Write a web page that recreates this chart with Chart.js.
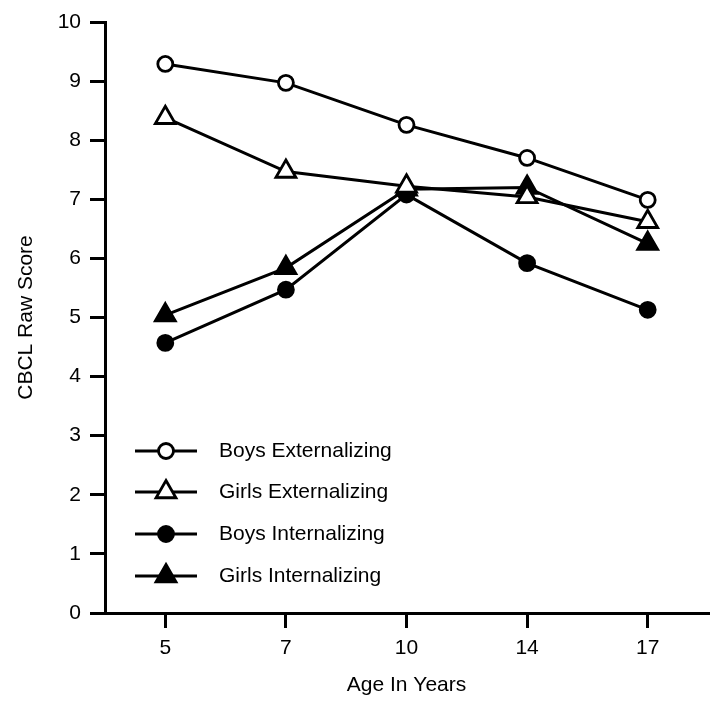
<!DOCTYPE html>
<html>
<head>
<meta charset="utf-8">
<script src="https://cdn.jsdelivr.net/npm/chart.js@4/dist/chart.umd.min.js"></script>
<style>
  html, body { margin: 0; padding: 0; background: #fff; }
  #wrap { width: 715px; height: 709px; }
</style>
</head>
<body>
<div id="wrap"><canvas id="cbclChart" width="715" height="709"></canvas></div>
<script>
// CBCL raw scores by age
const ages = ['5', '7', '10', '14', '17'];
const boysExternalizing = [9.29, 8.97, 8.26, 7.70, 6.99];
const girlsExternalizing = [8.38, 7.47, 7.22, 7.04, 6.62];
const boysInternalizing = [4.57, 5.47, 7.08, 5.92, 5.13];
const girlsInternalizing = [5.04, 5.84, 7.17, 7.20, 6.25];
const yTicks = [0, 1, 2, 3, 4, 5, 6, 7, 8, 9, 10];

const FONT = "'Liberation Sans', Arial, sans-serif";
const FONT_SIZE = 21;

function series(label, data, style, filled) {
    const isCircle = style === 'circle';
    return {
        label: label,
        data: data,
        borderColor: '#000',
        borderWidth: 3,
        pointStyle: style,
        pointRadius: isCircle ? 7.5 : 11.5,
        pointBorderWidth: 2.8,
        pointBorderColor: '#000',
        pointBackgroundColor: filled ? '#000' : '#fff',
        fill: false,
        tension: 0
    };
}

// legend drawn inside the plot area, bottom left
const innerLegend = {
    id: 'innerLegend',
    afterDraw(chart) {
        const ctx = chart.ctx;
        const area = chart.chartArea;
        const x0 = area.left + 30;
        const x1 = area.left + 92;
        const xm = (x0 + x1) / 2;
        const rows = [451, 492, 534, 576];
        ctx.save();
        chart.data.datasets.forEach((ds, i) => {
            const y = rows[i];
            ctx.strokeStyle = '#000';
            ctx.lineWidth = 3;
            ctx.beginPath();
            ctx.moveTo(x0, y);
            ctx.lineTo(x1, y);
            ctx.stroke();
            ctx.fillStyle = ds.pointBackgroundColor;
            ctx.lineWidth = ds.pointBorderWidth;
            Chart.helpers.drawPoint(ctx, {
                pointStyle: ds.pointStyle,
                radius: ds.pointRadius,
                borderWidth: ds.pointBorderWidth,
                rotation: 0
            }, xm, y);
            ctx.fillStyle = '#000';
            ctx.font = FONT_SIZE + 'px ' + FONT;
            ctx.textBaseline = 'middle';
            ctx.textAlign = 'left';
            ctx.fillText(ds.label, area.left + 114, y);
        });
        ctx.restore();
    }
};

function initializeChart() {
    const ctx = document.getElementById('cbclChart');
    new Chart(ctx, {
        type: 'line',
        data: {
            labels: ages,
            datasets: [
                series('Boys Externalizing', boysExternalizing, 'circle', false),
                series('Girls Externalizing', girlsExternalizing, 'triangle', false),
                series('Boys Internalizing', boysInternalizing, 'circle', true),
                series('Girls Internalizing', girlsInternalizing, 'triangle', true)
            ]
        },
        options: {
            responsive: false,
            animation: false,
            layout: { autoPadding: false, padding: { left: 0, right: 7, top: 22, bottom: 0 } },
            plugins: {
                legend: { display: false },
                tooltip: { enabled: false }
            },
            scales: {
                x: {
                    type: 'category',
                    offset: true,
                    border: { display: true, color: '#000', width: 3 },
                    grid: { offset: false, drawOnChartArea: false, drawTicks: true, tickLength: 15, color: '#000', lineWidth: 3 },
                    ticks: { color: '#000', padding: 8, font: { size: FONT_SIZE, family: FONT } },
                    title: { display: true, text: 'Age In Years', color: '#000', padding: { top: 0, bottom: 11 }, font: { size: FONT_SIZE, family: FONT } },
                    afterFit(scale) { scale.height = 96; }
                },
                y: {
                    min: 0,
                    max: 10,
                    afterBuildTicks(scale) { scale.ticks = yTicks.map(v => ({ value: v })); },
                    border: { display: true, color: '#000', width: 3 },
                    grid: { drawOnChartArea: false, drawTicks: true, tickLength: 15, color: '#000', lineWidth: 3 },
                    ticks: { color: '#000', padding: 9, font: { size: FONT_SIZE, family: FONT } },
                    title: { display: true, text: 'CBCL Raw Score', color: '#000', padding: { top: 14, bottom: 0 }, font: { size: FONT_SIZE, family: FONT } },
                    afterFit(scale) { scale.width = 105; }
                }
            }
        },
        plugins: [innerLegend]
    });
}

initializeChart();
</script>
</body>
</html>
